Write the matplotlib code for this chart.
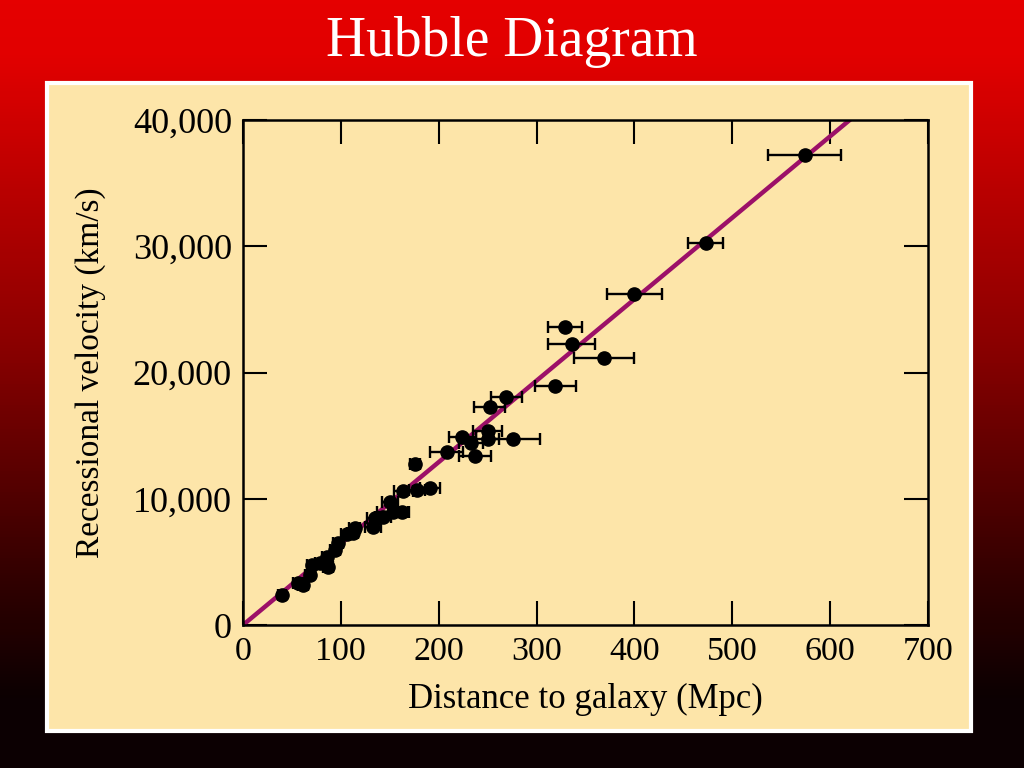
"""Hubble diagram: recessional velocity vs distance, with the linear fit."""

import matplotlib

matplotlib.use("Agg")

import matplotlib.pyplot as plt  # noqa: E402
import numpy as np  # noqa: E402
from matplotlib.colors import LinearSegmentedColormap  # noqa: E402
from matplotlib.patches import Rectangle  # noqa: E402

# --- data ---
distance = [574, 473, 400, 329, 336, 369, 319, 269, 252, 224,
            250, 250, 276, 233, 208, 237, 176, 191, 178, 164,
            150, 153, 162, 143, 133, 135, 114, 112, 106, 97,
            94, 86, 79, 70, 87, 68, 56, 61, 40]
velocity = [37200, 30250, 26200, 23600, 22250, 21150, 18900, 18050, 17250, 14900,
            15400, 14750, 14700, 14400, 13700, 13400, 12750, 10850, 10700, 10600,
            9750, 8950, 8950, 8550, 7750, 8500, 7700, 7300, 7200, 6500,
            5950, 5400, 4900, 4750, 4600, 3950, 3300, 3150, 2350]
distance_err = [37, 18, 28, 17, 24, 31, 21, 16, 16, 14,
                15, 12, 28, 12, 17, 16, 5, 10, 8, 10,
                8, 16, 8, 8, 8, 8, 6, 6, 6, 5,
                5, 5, 5, 5, 5, 5, 5, 5, 4]

fit_distance = [0, 620]
fit_velocity = [0, 40000]

x_ticks = [0, 100, 200, 300, 400, 500, 600, 700]
y_ticks = [0, 10000, 20000, 30000, 40000]
y_tick_labels = ["0", "10,000", "20,000", "30,000", "40,000"]

W, H = 1024, 768
CREAM = "#fde5a9"
LINE = "#9c1068"
SERIF = ["Liberation Serif", "DejaVu Serif"]

plt.rcParams["font.family"] = SERIF

fig = plt.figure(figsize=(W / 100, H / 100), dpi=100)

# fond dégradé rouge -> noir, en coordonnées pixel
bg = fig.add_axes([0, 0, 1, 1])
bg.set_xlim(0, W)
bg.set_ylim(H, 0)
bg.axis("off")
cmap = LinearSegmentedColormap.from_list(
    "slide", [(0.0, "#e50000"), (0.07, "#e20000"), (0.45, "#8a0000"),
              (0.75, "#330000"), (0.91, "#0c0002"), (1.0, "#0c0002")]
)
grad = np.linspace(0, 1, 256).reshape(-1, 1)
bg.imshow(grad, cmap=cmap, aspect="auto", extent=(0, W, H, 0), zorder=0)
bg.add_patch(Rectangle((47, 83), 924, 648, facecolor=CREAM,
                       edgecolor="white", linewidth=3, zorder=1))
bg.text(512, 42, "Hubble Diagram", color="white", fontsize=40,
        ha="center", va="center", family=SERIF)

# graphique principal
ax = fig.add_axes([243 / W, 1 - 625 / H, 685 / W, 505 / H])
ax.set_facecolor("none")
ax.errorbar(distance, velocity, xerr=distance_err, fmt="o", color="black",
            markersize=9.5, elinewidth=1.7, capsize=4.5, capthick=1.7, zorder=3)
ax.plot(fit_distance, fit_velocity, color=LINE, linewidth=3.2, zorder=2)

ax.set_xlim(0, 700)
ax.set_ylim(0, 40000)
ax.set_xticks(x_ticks)
ax.set_yticks(y_ticks)
ax.set_yticklabels(y_tick_labels)
ax.tick_params(direction="in", length=17, width=1.5, pad=8,
               top=True, right=True, colors="black")
ax.tick_params(axis="x", labelsize=24.5)
ax.tick_params(axis="y", labelsize=26)
for spine in ax.spines.values():
    spine.set_linewidth(1.8)

ax.set_xlabel("Distance to galaxy (Mpc)", fontsize=25, labelpad=12)
ax.set_ylabel("Recessional velocity (km/s)", fontsize=24, labelpad=19)

fig.savefig("out.png", dpi=100)
plt.close(fig)
